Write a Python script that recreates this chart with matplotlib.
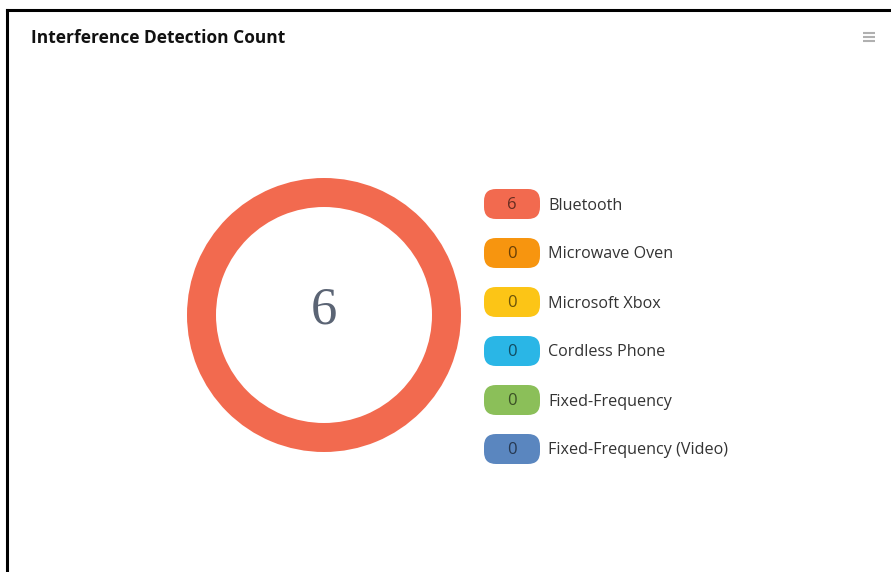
import matplotlib.pyplot as plt
from matplotlib.colors import to_rgb
from matplotlib.patches import FancyBboxPatch

# データ
title = "Interference Detection Count"
categories = [
    "Bluetooth",
    "Microwave Oven",
    "Microsoft Xbox",
    "Cordless Phone",
    "Fixed-Frequency",
    "Fixed-Frequency (Video)",
]
counts = [6, 0, 0, 0, 0, 0]
colors = ["#f26a4f", "#f7950f", "#fcc516", "#2ab6e6", "#8bbf59", "#5a86bf"]

W, H = 891, 572
fig = plt.figure(figsize=(W / 100, H / 100), dpi=100)
ax = fig.add_axes([0, 0, 1, 1])

# ドーナツ
cx, cy, r_out = 324, 315, 137
ax.pie(
    counts,
    colors=colors,
    radius=r_out,
    center=(cx, cy),
    startangle=90,
    counterclock=False,
    wedgeprops=dict(width=29, linewidth=0),
)
ax.text(cx, cy - 4, str(sum(counts)), ha="center", va="center",
        fontsize=38, color="#5b6474", family="Liberation Serif")

# 凡例（ピル型）
x0, y0, step = 484, 204, 49
pill_w, pill_h = 56, 30
for i, (name, n, c) in enumerate(zip(categories, counts, colors)):
    y = y0 + i * step
    ax.add_patch(FancyBboxPatch(
        (x0 + 12, y - pill_h / 2 + 12), pill_w - 24, pill_h - 24,
        boxstyle="round,pad=12", facecolor=c, edgecolor="none"))
    dark = tuple(v * 0.42 for v in to_rgb(c))
    ax.text(x0 + pill_w / 2, y + 1, str(n), ha="center", va="center",
            fontsize=12, color=dark, family="Open Sans")
    ax.text(548, y + 1.5, name, ha="left", va="center",
            fontsize=11.6, color="#333333", family="Open Sans")

# タイトルとメニュー
ax.text(31, 38, title, ha="left", va="center", fontsize=12.5,
        fontweight="bold", color="#111111", family="Open Sans")
for dy in (-4, 0, 4):
    ax.plot([863, 875], [37 + dy, 37 + dy], color="#b0b0b0", lw=1.5,
            solid_capstyle="butt")

# 枠線
ax.plot([7, 7], [H, 10], color="black", lw=2.2)
ax.plot([7, W], [10, 10], color="black", lw=2.2)

ax.set_xlim(0, W)
ax.set_ylim(H, 0)
ax.set_aspect("auto")
ax.axis("off")

fig.savefig("out.png", dpi=100, facecolor="white")
